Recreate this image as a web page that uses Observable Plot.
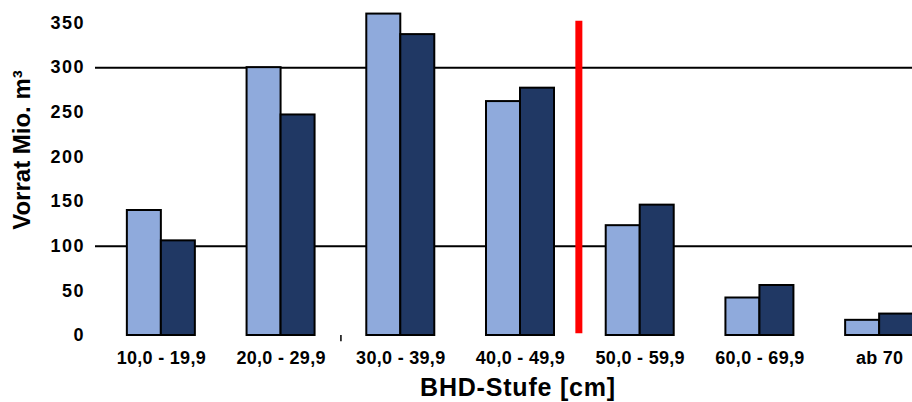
<!DOCTYPE html>
<html>
<head>
<meta charset="utf-8">
<script src="https://cdn.jsdelivr.net/npm/d3@7"></script>
<script src="https://cdn.jsdelivr.net/npm/@observablehq/plot@0.6"></script>
<style>
  html, body { margin: 0; padding: 0; background: #fff; }
  #chart svg { display: block; }
  #chart svg g[aria-label="y-axis tick label"] text { font-size: 18px !important; letter-spacing: 1.5px; }
  #chart svg g[aria-label="x-axis tick label"] text { font-size: 18px !important; letter-spacing: 0.3px; }
  #chart svg g.xtitle text { letter-spacing: 0.8px; }
</style>
</head>
<body>
<div id="chart"></div>
<script>
const categories = ["10,0 - 19,9", "20,0 - 29,9", "30,0 - 39,9", "40,0 - 49,9", "50,0 - 59,9", "60,0 - 69,9", "ab 70"];
const seriesLight = [140, 300, 360, 262, 123, 42, 17];
const seriesDark = [106, 247, 337, 277, 146, 56, 24];
const yTicks = [0, 50, 100, 150, 200, 250, 300, 350];
const gridValues = [100, 300];
const dividerAfter = "40,0 - 49,9";
const dividerRange = [2, 352];
const stubAfter = "20,0 - 29,9";
const xTitle = "BHD-Stufe [cm]";
const yTitle = "Vorrat Mio. m³";

const light = categories.map((c, i) => ({cat: c, value: seriesLight[i]}));
const dark = categories.map((c, i) => ({cat: c, value: seriesDark[i]}));

const W = 912, H = 402;
const bandStart = 101, bandEnd = 939;
const band = (bandEnd - bandStart) / categories.length;
const barW = 34;
const outer = band / 2 - barW;

const font = "'Liberation Sans', Arial, sans-serif";

const plot = Plot.plot({
  width: W,
  height: H,
  marginLeft: 95,
  marginRight: 0,
  marginTop: 22,
  marginBottom: 67,
  style: {fontFamily: font, fontWeight: "bold", color: "#000", background: "#fff"},
  x: {domain: categories, range: [bandStart, bandEnd], padding: 0, round: false, axis: null},
  y: {domain: [0, 350], range: [335, 22.5], axis: null},
  marks: [
    Plot.ruleY(gridValues, {stroke: "#000", strokeWidth: 2}),
    Plot.barY(light, {x: "cat", y: "value", fill: "#8FAADC", stroke: "#000", strokeWidth: 2, insetLeft: outer, insetRight: band / 2}),
    Plot.barY(dark, {x: "cat", y: "value", fill: "#203864", stroke: "#000", strokeWidth: 2, insetLeft: band / 2, insetRight: outer}),
    Plot.ruleX([dividerAfter], {x: d => d, y1: dividerRange[0], y2: dividerRange[1], stroke: "#FF0000", strokeWidth: 7, dx: band / 2 - 1.5}),
    Plot.ruleX([stubAfter], {x: d => d, y1: 0, y2: -7, stroke: "#000", strokeWidth: 1.5, dx: band / 2}),
    Plot.axisX({ticks: categories, tickSize: 0, tickPadding: 16, fontSize: 18, fontWeight: "bold", fill: "#000", label: null}),
    Plot.axisY(yTicks, {tickSize: 0, tickPadding: 10.5, fontSize: 18, fontWeight: "bold", fill: "#000", label: null}),
    Plot.text([xTitle], {text: d => d, frameAnchor: "bottom", dx: 14, dy: 52, lineAnchor: "middle", fontSize: 25, fontWeight: "bold", fill: "#000", textAnchor: "middle", className: "xtitle"}),
    Plot.text([yTitle], {text: d => d, frameAnchor: "left", dx: -73, dy: -29, rotate: -90, lineAnchor: "middle", fontSize: 24, fontWeight: "bold", fill: "#000", textAnchor: "middle"})
  ]
});
document.getElementById("chart").appendChild(plot);
</script>
</body>
</html>
